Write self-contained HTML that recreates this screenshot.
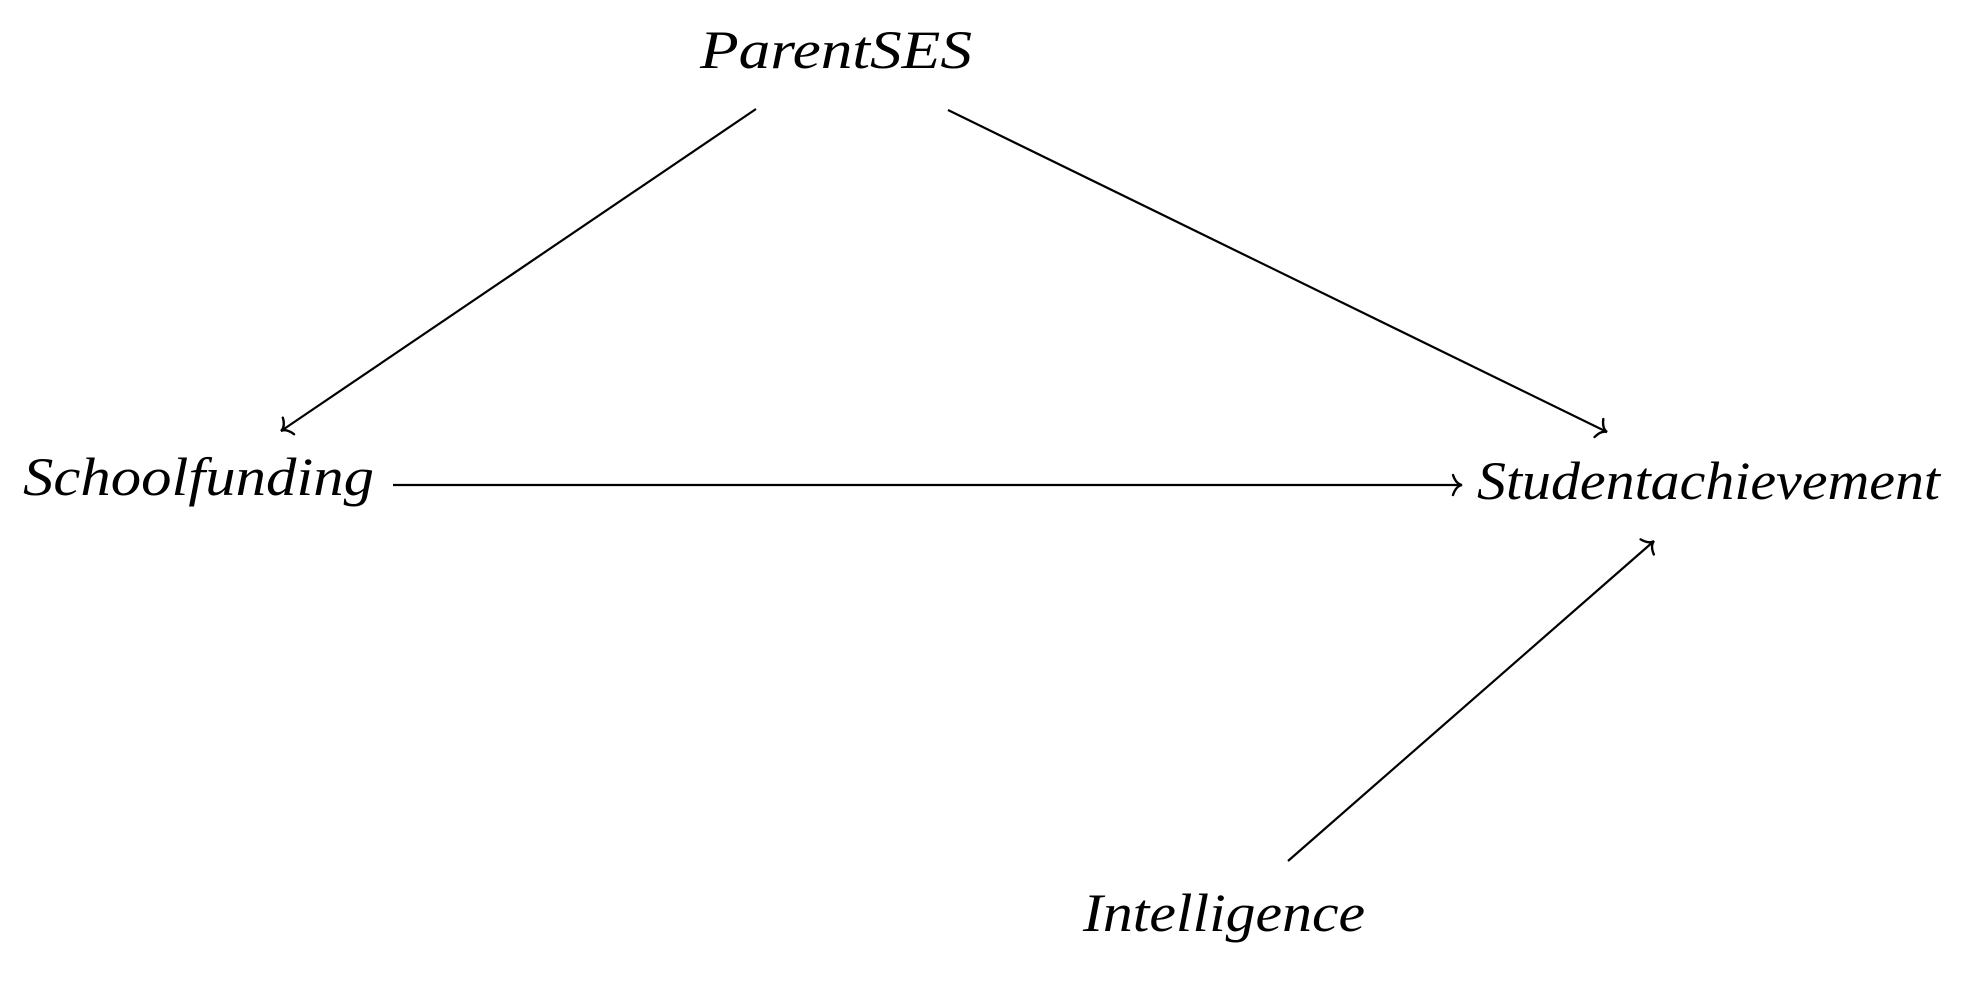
<!DOCTYPE html>
<html><head><meta charset="utf-8"><style>
html,body{margin:0;padding:0;background:#fff;}
svg{display:block;}
text{font-family:"Liberation Serif",serif;font-style:italic;font-size:54px;fill:#000;}
</style></head><body>
<svg width="1988" height="1000" viewBox="0 0 1988 1000" xmlns="http://www.w3.org/2000/svg">
<defs>
<marker id="a" markerWidth="24" markerHeight="24" refX="12" refY="12" orient="auto" markerUnits="userSpaceOnUse">
<path d="M3,2 Q6,11 12,12 Q6,13 3,22" fill="none" stroke="#000" stroke-width="2.4" stroke-linecap="round"/>
</marker>
</defs>
<g stroke="#000" stroke-width="2.2" fill="none">
<line x1="756" y1="109" x2="281" y2="431" marker-end="url(#a)"/>
<line x1="948" y1="110" x2="1607" y2="432" marker-end="url(#a)"/>
<line x1="393" y1="485" x2="1462" y2="485" marker-end="url(#a)"/>
<line x1="1288" y1="861" x2="1654" y2="541" marker-end="url(#a)"/>
</g>
<text x="700" y="68" textLength="272" lengthAdjust="spacingAndGlyphs">ParentSES</text>
<text x="23" y="495" textLength="351" lengthAdjust="spacingAndGlyphs">Schoolfunding</text>
<text x="1477" y="499" textLength="463" lengthAdjust="spacingAndGlyphs">Studentachievement</text>
<text x="1083" y="931" textLength="282" lengthAdjust="spacingAndGlyphs">Intelligence</text>
</svg>
</body></html>
